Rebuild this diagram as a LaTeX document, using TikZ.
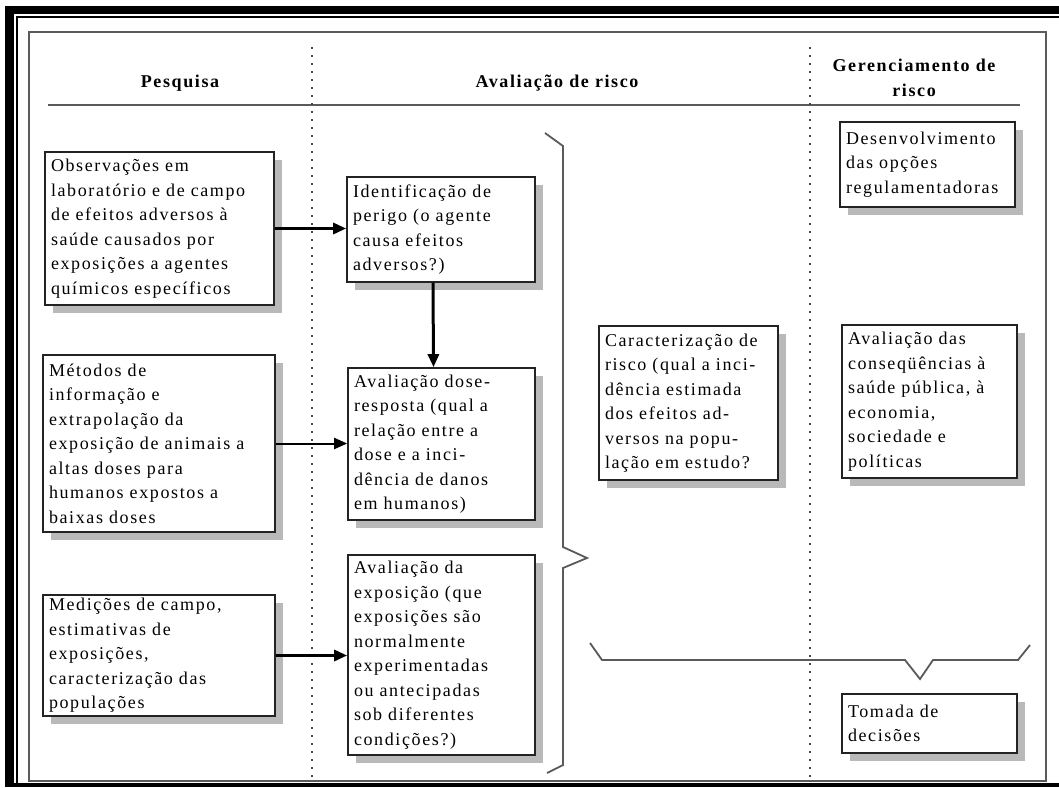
\documentclass[tikz,border=0pt]{standalone}
\usepackage{fontspec}
\setmainfont{Liberation Serif}[LetterSpace=9]
\usetikzlibrary{arrows.meta,shadows}
\definecolor{boxline}{RGB}{35,35,35}
\definecolor{shadowgray}{RGB}{185,185,185}
\definecolor{framegray}{RGB}{90,90,90}
\definecolor{dotgray}{RGB}{70,70,70}
\begin{document}
\begin{tikzpicture}[x=1pt,y=-1pt,
  box/.style={draw=boxline, line width=1.7pt, fill=white, inner xsep=6pt, inner ysep=3pt,
    align=left, font=\fontsize{18}{24.5}\selectfont,
    drop shadow={shadow xshift=8pt, shadow yshift=-8pt, fill=shadowgray, opacity=1}},
  hdr/.style={font=\fontsize{18}{25}\selectfont\bfseries, align=center, inner sep=0pt},
  thickarr/.style={line width=3pt, -{Triangle[length=13pt,width=11pt]}},
  thinarr/.style={line width=2pt, -{Triangle[length=13pt,width=11pt]}},
  bracel/.style={draw=framegray, line width=1.8pt},
  dotl/.style={draw=dotgray, line width=1.6pt, dash pattern=on 1.6pt off 6.4pt}
]
\useasboundingbox (0,0) rectangle (1059,787);
\fill[white] (0,0) rectangle (1059,787);
% outer black frame
\fill[black] (5,6) rectangle (1059,14);
\fill[black] (16,15.5) rectangle (1059,17.5);
\fill[black] (5,6) rectangle (14,787);
\fill[black] (16,15.5) rectangle (18,787);
\fill[black] (5,783) rectangle (1059,787);
% gray frame
\draw[framegray, line width=2pt] (29,32) rectangle (1046,781);
% header rule
\draw[framegray, line width=2pt] (48,105) -- (1020,105);
% dotted separators
\draw[dotl] (312,47) -- (312,780);
\draw[dotl] (810,47) -- (810,780);
% headers
\node[hdr] (h1) at (180,83) {Pesquisa};
\node[hdr] (h2) at (557,83) {Avaliação de risco};
\node[hdr] (h3) at (914,78) {Gerenciamento de\\risco};
% boxes
\node[box, text width=217pt, minimum height=153pt] (b1) at (159.5,228.5)
  {Observações em\\laboratório e de campo\\de efeitos adversos à\\saúde causados por\\exposições a agentes\\químicos específicos};
\node[box, text width=176pt, minimum height=105pt] (b2) at (441,229.5)
  {Identificação de\\perigo (o agente\\causa efeitos\\adversos?)};
\node[box, text width=175pt, minimum height=152pt] (b3) at (441.5,444)
  {Avaliação dose-\\resposta (qual a\\relação entre a\\dose e a inci-\\dência de danos\\em humanos)};
\node[box, text width=220pt, minimum height=177pt] (b4) at (159,443.5)
  {Métodos de\\informação e\\extrapolação da\\exposição de animais a\\altas doses para\\humanos expostos a\\baixas doses};
\node[box, text width=220pt, minimum height=119pt] (b5) at (159,655.5)
  {Medições de campo,\\estimativas de\\exposições,\\caracterização das\\populações};
\node[box, text width=175pt, minimum height=200pt] (b6) at (441.5,655)
  {Avaliação da\\exposição (que\\exposições são\\normalmente\\experimentadas\\ou antecipadas\\sob diferentes\\condições?)};
\node[box, text width=163pt, minimum height=85pt] (b7) at (927.5,164.5)
  {Desenvolvimento\\das opções\\regulamentadoras};
\node[box, text width=163pt, minimum height=153pt] (b8) at (929.5,401.5)
  {Avaliação das\\conseqüências à\\saúde pública, à\\economia,\\sociedade e\\políticas};
\node[box, text width=167pt, minimum height=154pt] (b9) at (688.5,403)
  {Caracterização de\\risco (qual a inci-\\dência estimada\\dos efeitos ad-\\versos na popu-\\lação em estudo?};
\node[box, text width=163pt, minimum height=59pt] (b10) at (929.5,723.5)
  {Tomada de\\decisões};
% arrows
\draw[thickarr] (b1.east) -- (b1.east -| b2.west);
\draw[thickarr] ([xshift=-8pt]b2.south) -- ([xshift=-8pt]b3.north);
\draw[thinarr] (b4.east) -- (b4.east -| b3.west);
\draw[thickarr] (b5.east) -- (b5.east -| b6.west);
% braces
\draw[bracel] (545,133) -- (563,146) -- (563,547) -- (587,558) -- (563,568) -- (563,765) -- (547,773);
\draw[bracel] (590,643) -- (602,660) -- (905,660) -- (920,679) -- (933,660) -- (1018,660) -- (1030,645);
\end{tikzpicture}
\end{document}
